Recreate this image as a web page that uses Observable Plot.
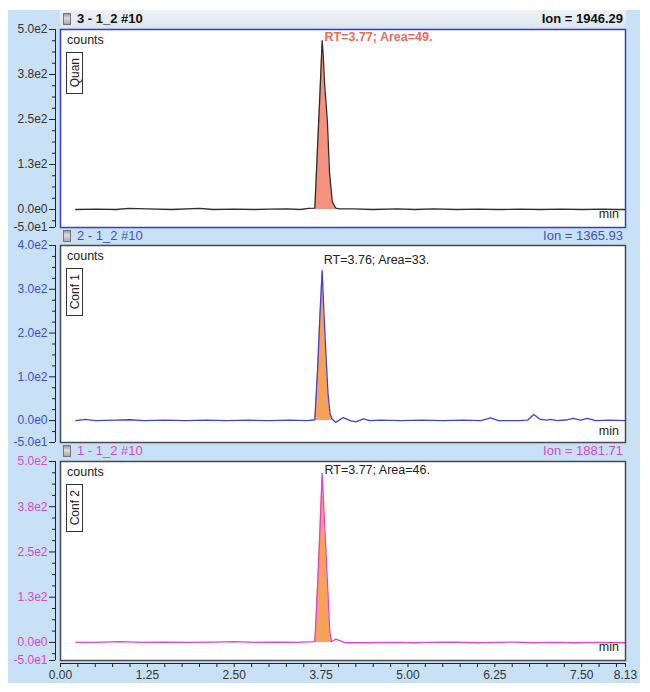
<!DOCTYPE html>
<html><head><meta charset="utf-8">
<script src="https://cdn.jsdelivr.net/npm/d3@7"></script>
<script src="https://cdn.jsdelivr.net/npm/@observablehq/plot@0.6"></script>
<style>
body{margin:0;background:#fff;font-family:"Liberation Sans",Arial,sans-serif;}
#wrap{position:relative;width:650px;height:692px;overflow:hidden;}
.abs{position:absolute;white-space:nowrap;}
.box{position:absolute;border:1px solid #333;background:#fff;display:flex;align-items:center;justify-content:center;box-sizing:border-box;}
.box span{writing-mode:vertical-rl;transform:rotate(180deg);font-size:12px;color:#222;}
.icon{position:absolute;width:8px;height:12px;border:1px solid #777;background:linear-gradient(#999,#ddd 40%,#aaa);box-sizing:border-box;}
</style></head><body><div id="wrap"></div><script>
// ---------- data ----------
const quanTime   = [0.22,0.5,0.8,0.98,1.25,1.6,2.0,2.2,2.5,2.8,3.0,3.26,3.45,3.57,3.66,3.70,3.735,3.765,3.78,3.80,3.84,3.87,3.91,3.96,4.02,4.2,4.5,4.85,5.1,5.37,5.7,6.0,6.3,6.6,6.9,7.2,7.5,7.8,8.0,8.13];
const quanCounts = [0,1,0,3,2,0,3,0,1,0,1,2,0,3,4,180,330,469,430,350,246,106,22,4,2,2,0,2,0,2,0,1,0,1,0,1,0,1,0,0];

const conf1Time   = [0.22,0.36,0.5,0.8,1.0,1.2,1.5,1.8,2.1,2.4,2.7,3.0,3.3,3.55,3.66,3.70,3.73,3.765,3.79,3.82,3.85,3.88,3.91,3.96,4.07,4.17,4.25,4.36,4.45,4.6,4.9,5.2,5.5,5.8,6.05,6.19,6.3,6.6,6.72,6.81,6.9,7.0,7.05,7.15,7.3,7.38,7.48,7.58,7.7,7.9,8.13];
const conf1Counts = [0,3,0,1,2,0,1,0,1,0,1,0,1,0,2,120,230,343,250,150,60,15,3,-4,7,0,-3,4,0,1,0,1,0,1,0,6,0,0,1,14,3,1,3,0,2,5,1,5,0,1,0];

const conf2Time   = [0.22,0.5,0.85,1.2,1.5,1.85,2.2,2.5,2.8,3.1,3.4,3.66,3.70,3.735,3.765,3.80,3.84,3.875,3.90,3.96,4.02,4.1,4.4,4.8,5.1,5.3,5.65,6.0,6.3,6.55,6.8,7.1,7.4,7.7,8.0,8.13];
const conf2Counts = [0,0,2,0,1,0,1,2,0,1,0,2,160,320,467,330,170,30,2,9,5,-1,-1,0,-1,0,1,-1,0,1,-1,0,-1,0,-1,-1];

const panelIds    = ["3 - 1_2 #10","2 - 1_2 #10","1 - 1_2 #10"];
const ionValues   = ["1946.29","1365.93","1881.71"];
const roleLabels  = ["Quan","Conf 1","Conf 2"];
const peakRT      = [3.77,3.76,3.77];
const peakArea    = [49,33,46];
const peakStart   = [3.66,3.66,3.66];
const peakEnd     = [3.96,3.91,3.90];

const yTicksA      = [500,375,250,125,0,-50];
const yTickLabelsA = ["5.0e2","3.8e2","2.5e2","1.3e2","0.0e0","-5.0e1"];
const yTicksB      = [400,300,200,100,0,-50];
const yTickLabelsB = ["4.0e2","3.0e2","2.0e2","1.0e2","0.0e0","-5.0e1"];
const xTicks       = [0,1.25,2.5,3.75,5,6.25,7.5,8.13];
const xTickLabels  = ["0.00","1.25","2.50","3.75","5.00","6.25","7.50","8.13"];

// ---------- layout / style ----------
const series = [
  {time: quanTime,  counts: quanCounts,  yTicks: yTicksA, yLabels: yTickLabelsA, yStep: 31.25},
  {time: conf1Time, counts: conf1Counts, yTicks: yTicksB, yLabels: yTickLabelsB, yStep: 25},
  {time: conf2Time, counts: conf2Counts, yTicks: yTicksA, yLabels: yTickLabelsA, yStep: 31.25}
];
const style = [
  {frameTop:29, frameH:198, head:19, line:"#2e2e2e", fill:"#f5927d", frame:"#3b3bd6", label:"#333", headColor:"#111", headWeight:"bold", ann:"#ee6a55", annWeight:"bold", annDy:-4, minY:214},
  {frameTop:245, frameH:197, head:236, line:"#4040e2", fill:"#f7a258", frame:"#4a4a4a", label:"#3a4fd8", headColor:"#3a4fd8", headWeight:"normal", ann:"#222", annWeight:"normal", annDy:-10, minY:431},
  {frameTop:461, frameH:199, head:451, line:"#e040dc", fill:"#f7a258", frame:"#4a4a4a", label:"#d448d4", headColor:"#d448d4", headWeight:"normal", ann:"#222", annWeight:"normal", annDy:-3, minY:647}
];

const wrap = document.getElementById("wrap");
function div(cls, css, text){const d=document.createElement("div");d.className=cls;Object.assign(d.style,css);if(text!=null)d.textContent=text;wrap.appendChild(d);return d;}

// backgrounds
div("abs",{left:"8px",top:"10px",width:"632px",height:"673px",background:"#c9e1f6"});
div("abs",{left:"60px",top:"10px",width:"566px",height:"18px",background:"linear-gradient(#eef2f6,#dde6ee)"});

const MT = 10;
series.forEach((s, i) => {
  const st = style[i];
  const rows = s.time.map((t, k) => ({t, v: s.counts[k]}));
  const peakRows = rows.filter(r => r.t >= peakStart[i] && r.t <= peakEnd[i]);
  const yMax = s.yTicks[0];
  const minorY = [-s.yStep, ...d3.range(s.yStep, yMax, s.yStep).filter(v => !s.yTicks.includes(v))];
  const last = i === 2;
  const MB = last ? 30 : 10;
  const marks = [
    Plot.frame({fill: "white", stroke: "none"}),
    Plot.areaY(peakRows, {x: "t", y: "v", fill: st.fill}),
    Plot.lineY(rows, {x: "t", y: "v", stroke: st.line, strokeWidth: 1.3}),
    Plot.frame({stroke: st.frame, strokeWidth: 1.5}),
    Plot.ruleX([0], {dx: -5, stroke: "#222"}),
    Plot.axisY(minorY, {anchor: "left", tickSize: 3, tickFormat: () => "", dx: -5, stroke: "#222"}),
    Plot.axisY(s.yTicks, {anchor: "left", tickSize: 6, tickPadding: 2, dx: -5, stroke: "#222", fill: st.label,
      tickFormat: d => s.yLabels[s.yTicks.indexOf(d)]}),
    Plot.text([{t: peakRT[i], v: d3.max(s.counts), label: `RT=${peakRT[i].toFixed(2)}; Area=${peakArea[i]}.`}],
      {x: "t", y: "v", text: "label", textAnchor: "start", dx: 2, dy: st.annDy, fill: st.ann, fontWeight: st.annWeight, fontSize: 12.5})
  ];
  if (last) {
    const xMinor = d3.range(0, 8.01, 0.25).filter(v => !xTicks.includes(v));
    marks.push(
      Plot.ruleY([-50], {dy: 3, stroke: "#222"}),
      Plot.axisX(xMinor, {anchor: "bottom", tickSize: 4, tickFormat: () => "", dy: 3, stroke: "#222"}),
      Plot.axisX(xTicks, {anchor: "bottom", tickSize: 4, tickPadding: 3, dy: 3, stroke: "#222", fill: "#333",
        tickFormat: d => xTickLabels[xTicks.indexOf(d)]})
    );
  }
  const svg = Plot.plot({
    width: 650, height: st.frameH + MT + MB,
    marginLeft: 60, marginRight: 25, marginTop: MT, marginBottom: MB,
    x: {domain: [0, 8.13], axis: null, label: null},
    y: {domain: [-50, yMax], axis: null, label: null},
    style: {background: "transparent", overflow: "visible", fontFamily: "'Liberation Sans', Arial, sans-serif", fontSize: "12px", position: "absolute", left: "0px", top: (st.frameTop - MT) + "px"},
    marks
  });
  wrap.appendChild(svg);

  // header
  div("icon", {left: "63px", top: (st.head - 6) + "px"});
  div("abs", {left: "77px", top: (st.head - 8) + "px", fontSize: "13px", lineHeight: "16px", fontWeight: st.headWeight, color: st.headColor}, panelIds[i]);
  div("abs", {right: (650 - 623) + "px", top: (st.head - 8) + "px", fontSize: "13px", lineHeight: "16px", fontWeight: st.headWeight, color: st.headColor}, "Ion = " + ionValues[i]);
  // in-panel labels
  div("abs", {left: "67px", top: (st.frameTop + 3) + "px", fontSize: "12.5px", lineHeight: "16px", color: "#222"}, "counts");
  const bh = roleLabels[i].length > 4 ? 48 : 42;
  const b = div("box", {left: "66px", top: (st.frameTop + 23) + "px", width: "17px", height: bh + "px"});
  const sp = document.createElement("span"); sp.textContent = roleLabels[i]; b.appendChild(sp);
  div("abs", {right: (650 - 619) + "px", top: (st.minY - 8) + "px", fontSize: "12.5px", lineHeight: "16px", color: "#222"}, "min");
});
</script></body></html>
